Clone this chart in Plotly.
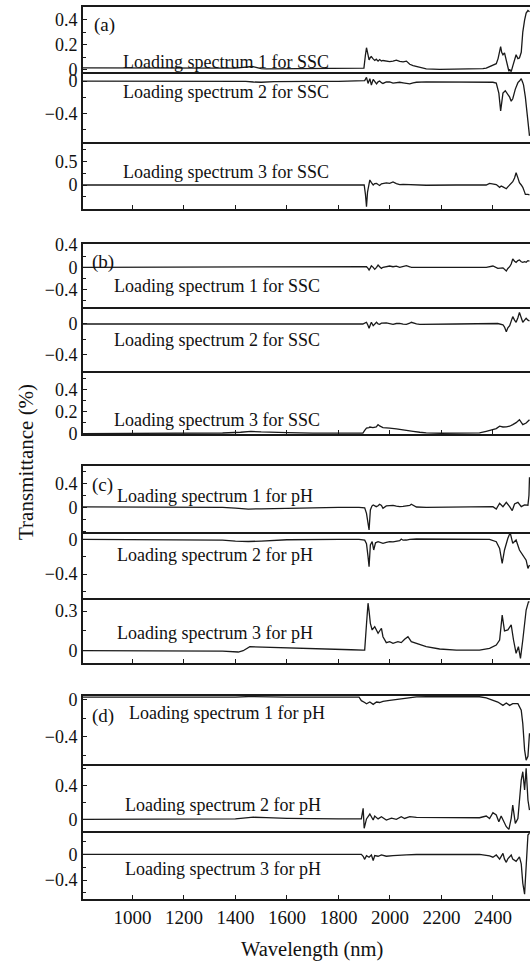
import plotly.graph_objects as go

# ---------------- data ----------------
wl_a1 = [808, 900, 1000, 1100, 1200, 1300, 1400, 1430, 1450, 1465, 1480, 1500, 1520, 1600, 1700, 1800, 1880, 1899, 1905, 1909, 1915, 1919, 1924, 1928, 1934, 1941, 1947, 1954, 1960, 1967, 1973, 1986, 1999, 2012, 2025, 2038, 2051, 2064, 2077, 2090, 2103, 2116, 2141, 2193, 2258, 2348, 2361, 2374, 2387, 2400, 2413, 2420, 2426, 2430, 2434, 2439, 2445, 2452, 2458, 2462, 2465, 2471, 2477, 2484, 2490, 2497, 2503, 2510, 2516, 2523, 2529, 2536, 2542]
val_a1 = [0.016, 0.015, 0.014, 0.013, 0.012, 0.012, 0.014, 0.02, 0.027, 0.028, 0.02, 0.01, 0.008, 0.009, 0.01, 0.01, 0.01, 0.015, 0.12, 0.176, 0.12, 0.08, 0.1, 0.105, 0.09, 0.075, 0.085, 0.07, 0.082, 0.07, 0.075, 0.068, 0.066, 0.07, 0.078, 0.068, 0.064, 0.07, 0.045, 0.035, 0.028, 0.018, 0.008, 0.005, 0.005, 0.008, 0.01, 0.015, 0.025, 0.035, 0.05, 0.09, 0.15, 0.184, 0.14, 0.12, 0.135, 0.07, 0.02, -0.01, 0.005, -0.013, 0.03, 0.09, 0.12, 0.09, 0.095, 0.14, 0.3, 0.395, 0.45, 0.47, 0.46]

wl_a2 = [808, 1000, 1200, 1400, 1440, 1470, 1500, 1550, 1600, 1700, 1800, 1895, 1902, 1909, 1915, 1922, 1928, 1935, 1941, 1948, 1954, 1960, 1967, 1973, 1986, 1999, 2012, 2025, 2038, 2051, 2064, 2077, 2090, 2103, 2141, 2258, 2361, 2400, 2413, 2423, 2430, 2436, 2439, 2448, 2452, 2458, 2465, 2471, 2477, 2487, 2497, 2503, 2510, 2516, 2519, 2526, 2529, 2536, 2542]
val_a2 = [0.0, 0.0, 0.0, -0.002, -0.005, -0.012, -0.015, -0.008, -0.005, -0.003, -0.003, 0.0, 0.005, 0.045, -0.03, 0.03, -0.05, 0.02, -0.01, -0.035, -0.01, 0.0, -0.02, -0.03, -0.012, -0.01, -0.025, -0.018, -0.015, -0.022, -0.025, -0.036, -0.022, -0.015, -0.01, -0.01, -0.012, -0.015, -0.025, -0.15, -0.37, -0.25, -0.15, -0.12, -0.14, -0.16, -0.2, -0.25, -0.22, -0.1, -0.02, 0.0, 0.03, -0.02, -0.05, -0.2, -0.3, -0.55, -0.68]

wl_a3 = [808, 1000, 1200, 1400, 1600, 1800, 1900, 1905, 1909, 1913, 1919, 1922, 1928, 1935, 1941, 1948, 1954, 1960, 1967, 1973, 1986, 1999, 2012, 2025, 2038, 2051, 2064, 2090, 2116, 2141, 2258, 2348, 2374, 2387, 2400, 2413, 2426, 2432, 2439, 2452, 2458, 2465, 2477, 2484, 2490, 2497, 2503, 2510, 2516, 2523, 2526, 2536, 2542]
val_a3 = [0.0, 0.0, -0.003, -0.003, 0.0, 0.0, 0.0, -0.2, -0.46, -0.15, 0.05, 0.106, 0.05, 0.0, 0.03, 0.035, 0.01, -0.01, 0.025, 0.03, 0.045, 0.035, 0.063, 0.03, 0.01, 0.015, 0.01, 0.0, -0.01, -0.005, 0.0, 0.0, 0.0, 0.035, 0.03, 0.01, -0.05, -0.02, -0.04, -0.078, -0.04, 0.0, 0.07, 0.15, 0.26, 0.15, 0.05, 0.0, -0.05, -0.15, -0.2, -0.2, -0.21]

wl_b1 = [808, 1000, 1200, 1400, 1460, 1500, 1600, 1800, 1895, 1902, 1909, 1915, 1919, 1924, 1928, 1935, 1941, 1948, 1954, 1960, 1967, 1973, 1986, 1999, 2012, 2025, 2038, 2051, 2064, 2077, 2083, 2116, 2258, 2374, 2400, 2419, 2439, 2452, 2458, 2465, 2471, 2477, 2484, 2490, 2497, 2503, 2510, 2516, 2523, 2529, 2536, 2542]
val_b1 = [0.0, 0.0, 0.0, 0.003, 0.01, 0.002, 0.0, 0.0, 0.0, 0.005, 0.011, -0.02, -0.048, -0.01, 0.029, 0.0, -0.036, 0.0, 0.041, 0.01, -0.018, 0.0, 0.011, 0.023, 0.01, 0.02, 0.0, 0.01, 0.029, 0.01, 0.0, 0.0, 0.0, 0.0, 0.023, -0.018, -0.01, -0.066, -0.02, 0.011, 0.06, 0.149, 0.11, 0.09, 0.12, 0.131, 0.1, 0.09, 0.1, 0.09, 0.12, 0.113]

wl_b2 = [808, 1000, 1200, 1400, 1460, 1500, 1800, 1895, 1902, 1909, 1915, 1919, 1924, 1928, 1935, 1941, 1948, 1954, 1960, 1967, 1986, 1999, 2012, 2025, 2038, 2051, 2064, 2077, 2083, 2103, 2116, 2258, 2400, 2419, 2439, 2445, 2452, 2458, 2465, 2471, 2477, 2484, 2490, 2497, 2503, 2510, 2516, 2523, 2529, 2536, 2542]
val_b2 = [0.0, 0.0, 0.0, 0.002, 0.006, 0.0, 0.0, 0.0, 0.01, 0.022, -0.02, -0.056, -0.01, 0.022, -0.022, 0.0, 0.022, 0.0, -0.004, 0.01, 0.013, 0.005, -0.004, 0.006, 0.008, -0.002, -0.004, 0.01, 0.022, 0.0, -0.004, 0.0, 0.0, 0.006, -0.01, -0.04, -0.099, -0.05, -0.022, 0.03, 0.095, 0.05, 0.022, 0.08, 0.15, 0.08, 0.022, 0.05, 0.073, 0.05, 0.039]

wl_b3 = [808, 1000, 1200, 1350, 1420, 1460, 1500, 1550, 1600, 1700, 1800, 1880, 1895, 1902, 1909, 1919, 1922, 1934, 1947, 1954, 1960, 1973, 1986, 1999, 2025, 2051, 2077, 2090, 2116, 2141, 2200, 2300, 2348, 2374, 2400, 2413, 2426, 2439, 2452, 2465, 2477, 2490, 2503, 2510, 2516, 2529, 2542]
val_b3 = [0.0, 0.0, 0.002, 0.005, 0.012, 0.02, 0.015, 0.01, 0.008, 0.004, 0.003, 0.003, 0.005, 0.03, 0.05, 0.055, 0.06, 0.055, 0.06, 0.082, 0.07, 0.055, 0.05, 0.05, 0.042, 0.036, 0.03, 0.021, 0.012, 0.006, 0.003, 0.003, 0.006, 0.021, 0.036, 0.045, 0.067, 0.06, 0.062, 0.067, 0.082, 0.1, 0.127, 0.1, 0.082, 0.097, 0.127]

wl_c1 = [808, 1000, 1200, 1350, 1400, 1450, 1500, 1550, 1600, 1700, 1800, 1880, 1902, 1909, 1915, 1919, 1924, 1930, 1935, 1941, 1947, 1954, 1960, 1967, 1973, 1986, 1999, 2012, 2025, 2038, 2051, 2064, 2077, 2083, 2090, 2103, 2141, 2258, 2374, 2400, 2413, 2426, 2439, 2452, 2465, 2475, 2484, 2497, 2510, 2523, 2536, 2540, 2542]
val_c1 = [0.008, 0.007, 0.005, 0.0, -0.015, -0.03, -0.025, -0.02, -0.01, 0.0, 0.0, 0.0, -0.01, -0.1, -0.3, -0.378, -0.045, 0.02, 0.038, 0.02, 0.01, 0.025, 0.05, 0.03, -0.017, 0.022, 0.03, 0.033, 0.02, 0.01, 0.015, 0.022, 0.03, 0.05, 0.03, 0.005, 0.0, 0.0, 0.0, 0.01, -0.03, 0.067, 0.01, 0.083, 0.01, -0.056, 0.055, 0.083, 0.01, 0.04, 0.035, 0.2, 0.5]

wl_c2 = [808, 1000, 1200, 1350, 1400, 1450, 1500, 1550, 1600, 1800, 1880, 1902, 1909, 1915, 1919, 1924, 1931, 1937, 1944, 1954, 1960, 1973, 1986, 1999, 2012, 2025, 2038, 2044, 2051, 2064, 2077, 2103, 2200, 2374, 2387, 2413, 2426, 2436, 2445, 2458, 2467, 2477, 2490, 2503, 2516, 2529, 2536, 2542]
val_c2 = [0.0, -0.002, -0.005, -0.01, -0.02, -0.025, -0.02, -0.012, -0.005, 0.0, 0.0, -0.01, -0.05, -0.2, -0.316, -0.066, -0.027, -0.123, -0.04, -0.027, -0.035, -0.046, -0.035, -0.027, -0.03, -0.02, -0.015, 0.004, -0.01, -0.008, 0.0, 0.004, 0.004, 0.0, 0.0, -0.027, -0.104, -0.277, -0.123, 0.012, 0.077, -0.046, -0.008, -0.123, -0.18, -0.24, -0.335, -0.296]

wl_c3 = [808, 1000, 1200, 1350, 1411, 1430, 1456, 1500, 1550, 1650, 1750, 1850, 1895, 1902, 1909, 1915, 1919, 1924, 1931, 1941, 1954, 1967, 1973, 1986, 1999, 2012, 2031, 2044, 2057, 2070, 2083, 2109, 2141, 2193, 2258, 2348, 2387, 2413, 2426, 2436, 2445, 2458, 2471, 2480, 2490, 2499, 2507, 2516, 2529, 2538, 2542]
val_c3 = [0.0, 0.0, 0.0, -0.003, -0.01, 0.0, 0.03, 0.027, 0.022, 0.018, 0.012, 0.007, 0.005, 0.005, 0.2, 0.36, 0.3, 0.207, 0.157, 0.182, 0.132, 0.17, 0.106, 0.061, 0.068, 0.056, 0.068, 0.061, 0.086, 0.106, 0.068, 0.051, 0.03, 0.013, 0.005, 0.005, 0.018, 0.043, 0.081, 0.27, 0.15, 0.157, 0.195, 0.081, -0.02, 0.03, -0.058, 0.081, 0.308, 0.37, 0.37]

wl_d1 = [808, 1000, 1200, 1400, 1450, 1500, 1600, 1800, 1880, 1889, 1896, 1902, 1909, 1922, 1935, 1948, 1960, 1973, 1999, 2025, 2064, 2103, 2141, 2258, 2348, 2374, 2400, 2419, 2439, 2452, 2465, 2477, 2497, 2510, 2516, 2523, 2529, 2536, 2542]
val_d1 = [0.028, 0.027, 0.026, 0.028, 0.034, 0.03, 0.027, 0.027, 0.027, -0.01, -0.026, -0.03, -0.043, -0.025, -0.05, -0.025, -0.03, -0.018, -0.007, 0.003, 0.021, 0.03, 0.032, 0.032, 0.032, 0.021, -0.007, -0.025, -0.061, -0.036, -0.061, -0.043, -0.043, -0.114, -0.257, -0.54, -0.65, -0.61, -0.36]

wl_d2 = [808, 1000, 1200, 1400, 1430, 1470, 1520, 1600, 1800, 1889, 1896, 1900, 1909, 1922, 1935, 1941, 1954, 1967, 1986, 2006, 2025, 2044, 2057, 2077, 2103, 2200, 2348, 2374, 2387, 2400, 2413, 2423, 2432, 2452, 2462, 2471, 2477, 2487, 2497, 2510, 2516, 2523, 2529, 2536, 2542]
val_d2 = [0.0, 0.0, 0.0, 0.005, 0.015, 0.025, 0.02, 0.012, 0.005, 0.005, 0.131, -0.107, 0.005, 0.063, -0.008, 0.039, 0.005, 0.031, -0.008, 0.015, 0.0, 0.031, 0.01, 0.031, 0.024, 0.019, 0.019, 0.039, 0.01, 0.079, 0.051, -0.029, 0.039, -0.088, -0.12, 0.012, 0.17, -0.048, 0.01, 0.468, 0.567, 0.349, 0.607, 0.23, 0.11]

wl_d3 = [808, 1000, 1200, 1400, 1450, 1500, 1600, 1800, 1889, 1896, 1902, 1909, 1919, 1928, 1935, 1941, 1954, 1967, 1986, 2012, 2038, 2064, 2103, 2200, 2348, 2387, 2400, 2413, 2426, 2439, 2445, 2452, 2458, 2471, 2477, 2490, 2503, 2510, 2516, 2523, 2529, 2536, 2542]
val_d3 = [0.0, 0.0, 0.0, -0.005, -0.01, -0.008, -0.003, 0.0, 0.0, -0.03, -0.078, -0.02, -0.045, -0.01, -0.095, -0.02, -0.03, -0.01, -0.03, -0.02, -0.01, -0.01, -0.003, 0.0, 0.0, -0.025, -0.045, -0.01, -0.075, 0.015, -0.075, -0.125, -0.07, -0.01, -0.075, -0.11, -0.04, -0.15, -0.45, -0.62, -0.1, 0.3, 0.33]

series_x = [wl_a1, wl_a2, wl_a3, wl_b1, wl_b2, wl_b3, wl_c1, wl_c2, wl_c3, wl_d1, wl_d2, wl_d3]
series_y = [val_a1, val_a2, val_a3, val_b1, val_b2, val_b3, val_c1, val_c2, val_c3, val_d1, val_d2, val_d3]

panel_labels = ["(a)", "(b)", "(c)", "(d)"]
spectrum_labels = [
    "Loading spectrum 1 for SSC", "Loading spectrum 2 for SSC", "Loading spectrum 3 for SSC",
    "Loading spectrum 1 for SSC", "Loading spectrum 2 for SSC", "Loading spectrum 3 for SSC",
    "Loading spectrum 1 for pH", "Loading spectrum 2 for pH", "Loading spectrum 3 for pH",
    "Loading spectrum 1 for pH", "Loading spectrum 2 for pH", "Loading spectrum 3 for pH",
]
y_tickvals = [[0, 0.2, 0.4], [0, -0.4], [0, 0.5],
              [0.4, 0, -0.4], [0, -0.4], [0, 0.2, 0.4],
              [0, 0.4], [0, -0.4], [0, 0.3],
              [0, -0.4], [0, 0.4], [0, -0.4]]
x_tickvals = [1000, 1200, 1400, 1600, 1800, 2000, 2200, 2400]

# ---------------- layout geometry ----------------
W, H = 530, 961
ML = 83
XR = [808, 2544]
# pixel (top, bottom) of each subplot
px_box = [(7, 72), (72, 141.7), (141.7, 209),
          (244, 306.7), (306.7, 370.7), (370.7, 434),
          (465.7, 532.3), (532.3, 598.3), (598.3, 662.7),
          (696, 764.3), (764.3, 831), (831, 899.3)]
y_ranges = [[-0.016, 0.498], [-0.752, 0.112], [-0.507, 0.915],
            [-0.706, 0.418], [-0.603, 0.223], [-0.004, 0.575],
            [-0.417, 0.693], [-0.68, 0.081], [-0.091, 0.397],
            [-0.695, 0.040], [-0.139, 0.655], [-0.70, 0.363]]
minor_dt = [0.1, 0.2, 0.25, 0.2, 0.2, 0.1, 0.2, 0.2, 0.15, 0.2, 0.2, 0.2]
# annotation positions (data coords of each subplot)
lab_pos = [(957, 0.063), (957, -0.136), (955, 0.275),
           (920, -0.335), (920, -0.206), (920, 0.127),
           (933, 0.188), (933, -0.18), (933, 0.134),
           (978, -0.147), (964, 0.17), (964, -0.229)]
panel_pos = [(0, 844, 0.356), (3, 836, 0.095), (6, 836, 0.37), (9, 836, -0.18)]

FONT = "Liberation Serif, Times New Roman, serif"
LC = "#1a1a1a"

fig = go.Figure()
layout = dict(width=W, height=H, margin=dict(l=ML, r=0, t=0, b=0),
              paper_bgcolor="white", plot_bgcolor="white", showlegend=False,
              font=dict(family=FONT, size=18, color="#111"))

for i in range(12):
    n = i + 1
    xs = "x" if n == 1 else f"x{n}"
    ys = "y" if n == 1 else f"y{n}"
    fig.add_trace(go.Scatter(x=series_x[i], y=series_y[i], mode="lines",
                             line=dict(color=LC, width=1.3), xaxis=xs, yaxis=ys,
                             hoverinfo="skip"))
    top, bot = px_box[i]
    dom = [1 - bot / H, 1 - top / H]
    bottom_of_panel = (n % 3 == 0)
    top_of_panel = (n % 3 == 1)
    layout[f"xaxis{n}"] = dict(
        domain=[0, 1], range=XR, anchor=ys, showline=True, mirror=top_of_panel,
        linecolor=LC, linewidth=2, showgrid=False, zeroline=False,
        ticks="inside" if bottom_of_panel else "", ticklen=4, tickwidth=1.2, tickcolor=LC,
        tickvals=x_tickvals, showticklabels=(n == 12), automargin=False,
        tickfont=dict(family=FONT, size=19, color="#111"), ticklabelstandoff=0)
    layout[f"yaxis{n}"] = dict(
        domain=dom, range=y_ranges[i], anchor=xs, showline=True, mirror=False,
        linecolor=LC, linewidth=2, showgrid=False, zeroline=False,
        ticks="inside", ticklen=4, tickwidth=1.2, tickcolor=LC,
        tickvals=y_tickvals[i], automargin=False,
        minor=dict(ticks="inside", ticklen=3, dtick=minor_dt[i], tick0=0, tickcolor=LC, tickwidth=1),
        tickfont=dict(family=FONT, size=18, color="#111"))

annots = []
for i in range(12):
    n = i + 1
    xs = "x" if n == 1 else f"x{n}"
    ys = "y" if n == 1 else f"y{n}"
    annots.append(dict(text=spectrum_labels[i], x=lab_pos[i][0], y=lab_pos[i][1],
                       xref=xs, yref=ys, xanchor="left", yanchor="middle",
                       showarrow=False, font=dict(family=FONT, size=18, color="#111")))
for k, (idx, px, py) in enumerate(panel_pos):
    n = idx + 1
    xs = "x" if n == 1 else f"x{n}"
    ys = "y" if n == 1 else f"y{n}"
    annots.append(dict(text=panel_labels[k], x=px, y=py, xref=xs, yref=ys,
                       xanchor="left", yanchor="middle", showarrow=False,
                       font=dict(family=FONT, size=19, color="#111")))
annots.append(dict(text="Transmittance (%)", x=(26 - ML) / (W - ML), y=1 - 462 / H,
                   xref="paper", yref="paper", textangle=-90, showarrow=False,
                   xanchor="center", yanchor="middle",
                   font=dict(family=FONT, size=21, color="#111")))
annots.append(dict(text="Wavelength (nm)", x=(311.7 - ML) / (W - ML), y=1 - 949 / H,
                   xref="paper", yref="paper", showarrow=False,
                   xanchor="center", yanchor="middle",
                   font=dict(family=FONT, size=20.5, color="#111")))
layout["annotations"] = annots
fig.update_layout(**layout)
fig.write_html("out.html", config={"displayModeBar": False},
               post_script="document.body.style.margin='0';document.body.style.overflow='hidden';")
